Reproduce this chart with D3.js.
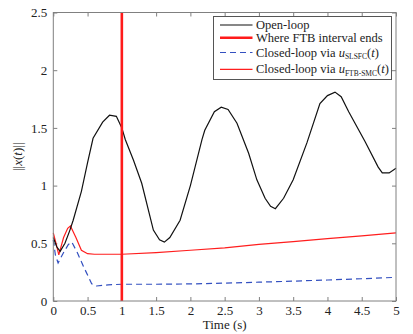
<!DOCTYPE html>
<html>
<head>
<meta charset="utf-8">
<script src="https://cdn.jsdelivr.net/npm/d3@7"></script>
<style>
  body { margin: 0; background: #fff; }
  svg { display: block; }
  svg text { font-family: "Liberation Serif", "Times New Roman", Tinos, "DejaVu Serif", serif; fill: #222; }
</style>
</head>
<body>
<div id="chart"></div>
<script>
// Chart size
var width = 413;
var height = 334;
var margin = { top: 12.5, right: 17, bottom: 33, left: 53.3 };
var serif = "'Liberation Serif', 'Times New Roman', Tinos, 'DejaVu Serif', serif";

// Open-loop response norm
var openT = [0, 0.05, 0.1, 0.17, 0.24, 0.29, 0.41, 0.5, 0.58, 0.72, 0.82, 0.92, 1.0, 1.05, 1.17, 1.29, 1.46, 1.55, 1.62, 1.7, 1.85, 2.0, 2.17, 2.21, 2.35, 2.45, 2.55, 2.68, 2.85, 2.97, 3.09, 3.17, 3.24, 3.36, 3.5, 3.7, 3.89, 4.0, 4.11, 4.2, 4.31, 4.55, 4.74, 4.8, 4.9, 5.0];
var openX = [0.55, 0.47, 0.43, 0.5, 0.61, 0.7, 0.95, 1.2, 1.41, 1.55, 1.61, 1.6, 1.5, 1.4, 1.22, 1.02, 0.615, 0.53, 0.51, 0.55, 0.7, 1.0, 1.4, 1.48, 1.64, 1.68, 1.66, 1.54, 1.28, 1.05, 0.89, 0.82, 0.8, 0.89, 1.05, 1.37, 1.71, 1.78, 1.81, 1.77, 1.64, 1.38, 1.16, 1.11, 1.11, 1.15];

// Closed-loop via SLSFC
var slsfcT = [0, 0.03, 0.07, 0.15, 0.22, 0.27, 0.35, 0.44, 0.56, 0.63, 0.8, 1.0, 1.5, 2.0, 2.5, 3.0, 3.5, 4.0, 4.5, 5.0];
var slsfcX = [0.53, 0.4, 0.33, 0.42, 0.49, 0.51, 0.42, 0.3, 0.15, 0.13, 0.14, 0.145, 0.145, 0.148, 0.155, 0.163, 0.172, 0.182, 0.193, 0.205];

// Closed-loop via FTB-SMC
var smcT = [0, 0.04, 0.08, 0.15, 0.21, 0.25, 0.33, 0.41, 0.5, 0.6, 1.0, 1.5, 2.0, 2.5, 3.0, 3.5, 4.0, 4.5, 5.0];
var smcX = [0.59, 0.5, 0.4, 0.55, 0.63, 0.65, 0.55, 0.44, 0.41, 0.405, 0.405, 0.42, 0.44, 0.46, 0.49, 0.515, 0.54, 0.565, 0.59];

// End of the finite-time-bounded interval
var ftbEnd = 1;

var xTicks = [0, 0.5, 1, 1.5, 2, 2.5, 3, 3.5, 4, 4.5, 5];
var yTicks = [0, 0.5, 1, 1.5, 2, 2.5];

function zip(ts, xs) {
  return ts.map(function (t, i) { return { t: t, v: xs[i] }; });
}

var svg = d3.select("#chart").append("svg")
  .attr("width", width)
  .attr("height", height)
  .attr("font-family", serif);

var x = d3.scaleLinear().domain([0, 5]).range([margin.left, width - margin.right]);
var y = d3.scaleLinear().domain([0, 2.5]).range([height - margin.bottom, margin.top]);

var axisColor = "#808080";

// Axes with inward ticks on all four sides
function styleAxis(g) {
  g.attr("font-family", serif).attr("font-size", 13);
  g.select(".domain").remove();
  g.selectAll(".tick line").attr("stroke", axisColor);
  g.selectAll(".tick text").attr("fill", "#222");
}

svg.append("g")
  .attr("transform", "translate(0," + y(0) + ")")
  .call(d3.axisBottom(x).tickValues(xTicks).tickFormat(d3.format("")).tickSizeInner(-4).tickPadding(5))
  .call(styleAxis);

svg.append("g")
  .attr("transform", "translate(0," + y(2.5) + ")")
  .call(d3.axisTop(x).tickValues(xTicks).tickFormat("").tickSizeInner(-4))
  .call(styleAxis);

svg.append("g")
  .attr("transform", "translate(" + x(0) + ",0)")
  .call(d3.axisLeft(y).tickValues(yTicks).tickFormat(d3.format("")).tickSizeInner(-4).tickPadding(6))
  .call(styleAxis);

svg.append("g")
  .attr("transform", "translate(" + x(5) + ",0)")
  .call(d3.axisRight(y).tickValues(yTicks).tickFormat("").tickSizeInner(-4))
  .call(styleAxis);

var line = d3.line()
  .x(function (d) { return x(d.t); })
  .y(function (d) { return y(d.v); });

// Curves
svg.append("path")
  .datum(zip(slsfcT, slsfcX))
  .attr("d", line)
  .attr("fill", "none")
  .attr("stroke", "#3350c0")
  .attr("stroke-width", 1.2)
  .attr("stroke-dasharray", "6,4");

svg.append("path")
  .datum(zip(smcT, smcX))
  .attr("d", line)
  .attr("fill", "none")
  .attr("stroke", "#ff1e1e")
  .attr("stroke-width", 1.2);

svg.append("path")
  .datum(zip(openT, openX))
  .attr("d", line)
  .attr("fill", "none")
  .attr("stroke", "#111")
  .attr("stroke-width", 1.2);

svg.append("line")
  .attr("x1", x(ftbEnd)).attr("x2", x(ftbEnd))
  .attr("y1", y(0)).attr("y2", y(2.5))
  .attr("stroke", "#ff1a1a")
  .attr("stroke-width", 2.6);

// Plot frame
svg.append("rect")
  .attr("x", x(0)).attr("y", y(2.5))
  .attr("width", x(5) - x(0)).attr("height", y(0) - y(2.5))
  .attr("fill", "none")
  .attr("stroke", axisColor)
  .attr("stroke-width", 1);

// Axis titles
svg.append("text")
  .attr("x", (x(0) + x(5)) / 2)
  .attr("y", height - 5)
  .attr("text-anchor", "middle")
  .attr("font-size", 13)
  .text("Time (s)");

var yl = svg.append("text")
  .attr("transform", "translate(22," + ((y(0) + y(2.5)) / 2) + ") rotate(-90)")
  .attr("text-anchor", "middle")
  .attr("font-size", 13);
yl.append("tspan").text("||");
yl.append("tspan").style("font-style", "italic").text("x");
yl.append("tspan").text("(");
yl.append("tspan").style("font-style", "italic").text("t");
yl.append("tspan").text(")||");

// Legend
var legend = svg.append("g");
legend.append("rect")
  .attr("x", 213.5).attr("y", 16.5)
  .attr("width", 178).attr("height", 63)
  .attr("fill", "#fff")
  .attr("stroke", "#555")
  .attr("stroke-width", 1);

var entries = [
  { y: 25, color: "#111", w: 1.2, dash: null, label: ["Open-loop"] },
  { y: 37.7, color: "#ff1a1a", w: 2.6, dash: null, label: ["Where FTB interval ends"] },
  { y: 52.5, color: "#3350c0", w: 1.2, dash: "6,4", label: ["Closed-loop via ", "SLSFC"] },
  { y: 69.3, color: "#ff1e1e", w: 1.2, dash: null, label: ["Closed-loop via ", "FTB-SMC"] }
];

entries.forEach(function (e) {
  legend.append("line")
    .attr("x1", 220).attr("x2", 252.5)
    .attr("y1", e.y).attr("y2", e.y)
    .attr("stroke", e.color)
    .attr("stroke-width", e.w)
    .attr("stroke-dasharray", e.dash);
  var t = legend.append("text")
    .attr("x", 256)
    .attr("y", e.y + 4)
    .attr("font-size", 12.5);
  t.append("tspan").text(e.label[0]);
  if (e.label.length > 1) {
    t.append("tspan").style("font-style", "italic").text("u");
    t.append("tspan").attr("dy", 2.5).attr("font-size", 7.5).text(e.label[1]);
    t.append("tspan").attr("dy", -2.5).text("(");
    t.append("tspan").style("font-style", "italic").text("t");
    t.append("tspan").text(")");
  }
});
</script>
</body>
</html>
